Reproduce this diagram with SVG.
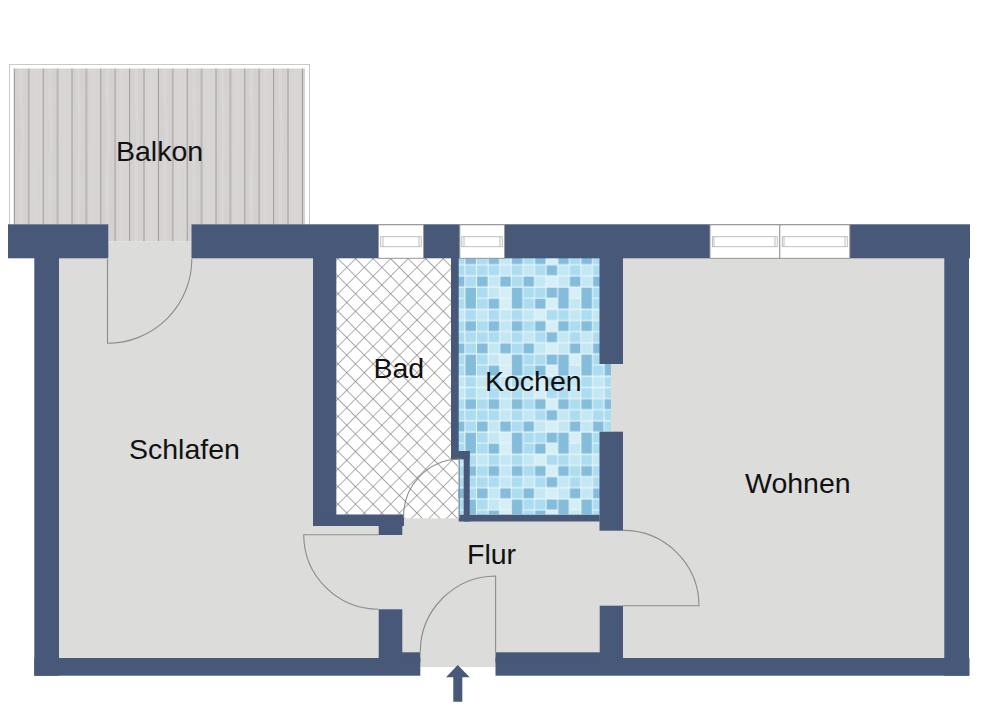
<svg xmlns="http://www.w3.org/2000/svg" width="1000" height="707" viewBox="0 0 1000 707">
<style>
.w{fill:#475879}
.f{fill:#dcdcdb}
.l{font:28.5px "Liberation Sans",Arial,sans-serif;fill:#111}
.d{fill:none;stroke:#8c8c8c;stroke-width:1.1}
.win{fill:#fff;stroke:#9a9a9a;stroke-width:1}
.pane{fill:#fff;stroke:#b8b8b8;stroke-width:.9}
.a{fill:#84bddb}.b{fill:#abdcf0}.c{fill:#c4e7f4}.e{fill:#d6eff7}
</style>
<defs>
<pattern id="wood" patternUnits="userSpaceOnUse" x="13.9" y="0" width="28.8" height="160">
<rect width="28.8" height="160" fill="#d5d1d1"/>
<rect x="14.4" width="14.4" height="160" fill="#d8d4d4"/>
<path d="M7 0C8 40 6 80 8 120S7 150 7 160M21 0C20 50 23 90 21 160" stroke="#d9d6d6" stroke-width="3" fill="none"/>
<rect x="0" width="1" height="160" fill="#a09b9b"/>
<rect x="14.4" width="1" height="160" fill="#a09b9b"/>
</pattern>
<pattern id="hatch" patternUnits="userSpaceOnUse" width="12.4" height="12.4" patternTransform="translate(338 258) rotate(45)">
<rect width="12.4" height="12.4" fill="#fff"/>
<path d="M0 0H12.4M0 0V12.4" stroke="#858585" stroke-width="1.3" fill="none"/>
</pattern>
<pattern id="tile" patternUnits="userSpaceOnUse" x="465" y="253.7" width="139.2" height="66.9">
<rect width="139.2" height="66.9" fill="#ebf7fb"/>
<g id="r0">
<rect class="a" x="0.4" y="0.5" width="10.6" height="10"/><rect class="b" x="12" y="0.5" width="10.6" height="10"/><rect class="a" x="23.6" y="0.5" width="10.6" height="10"/><rect class="c" x="35.2" y="0.5" width="10.6" height="10"/><rect class="a" x="46.8" y="0.5" width="10.6" height="10"/><rect class="b" x="58.4" y="0.5" width="10.6" height="10"/><rect class="a" x="70" y="0.5" width="10.6" height="10"/><rect class="e" x="81.6" y="0.5" width="10.6" height="10"/><rect class="a" x="93.2" y="0.5" width="10.6" height="10"/><rect class="b" x="104.8" y="0.5" width="10.6" height="10"/><rect class="a" x="116.4" y="0.5" width="10.6" height="10"/><rect class="b" x="128" y="0.5" width="10.6" height="10"/>
</g>
<g id="r1">
<rect class="b" x="0.4" y="11.6" width="10.6" height="10"/><rect class="b" x="12" y="11.6" width="10.6" height="10"/><rect class="b" x="23.6" y="11.6" width="10.6" height="10"/><rect class="c" x="35.2" y="11.6" width="10.6" height="10"/><rect class="b" x="46.8" y="11.6" width="10.6" height="10"/><rect class="c" x="58.4" y="11.6" width="10.6" height="10"/><rect class="b" x="70" y="11.6" width="10.6" height="10"/><rect class="a" x="81.6" y="11.6" width="10.6" height="10"/><rect class="c" x="93.2" y="11.6" width="10.6" height="10"/><rect class="b" x="104.8" y="11.6" width="10.6" height="10"/><rect class="c" x="116.4" y="11.6" width="10.6" height="10"/><rect class="b" x="128" y="11.6" width="10.6" height="10"/>
</g>
<g id="r2">
<rect class="b" x="0.4" y="22.8" width="10.6" height="10"/><rect class="a" x="12" y="22.8" width="10.6" height="10"/><rect class="c" x="23.6" y="22.8" width="10.6" height="10"/><rect class="a" x="35.2" y="22.8" width="10.6" height="10"/><rect class="b" x="46.8" y="22.8" width="10.6" height="10"/><rect class="a" x="58.4" y="22.8" width="10.6" height="10"/><rect class="c" x="70" y="22.8" width="10.6" height="10"/><rect class="e" x="81.6" y="22.8" width="10.6" height="10"/><rect class="c" x="93.2" y="22.8" width="10.6" height="10"/><rect class="a" x="104.8" y="22.8" width="10.6" height="10"/><rect class="c" x="116.4" y="22.8" width="10.6" height="10"/><rect class="a" x="128" y="22.8" width="10.6" height="10"/>
</g>
<g id="r3">
<rect class="a" x="0.4" y="34" width="10.6" height="21"/><rect class="b" x="12" y="34" width="10.6" height="10"/><rect class="c" x="23.6" y="34" width="10.6" height="10"/><rect class="e" x="35.2" y="34" width="10.6" height="10"/><rect class="a" x="46.8" y="34" width="10.6" height="21"/><rect class="b" x="58.4" y="34" width="10.6" height="10"/><rect class="b" x="70" y="34" width="10.6" height="10"/><rect class="a" x="81.6" y="34" width="10.6" height="10"/><rect class="a" x="93.2" y="34" width="10.6" height="21"/><rect class="e" x="104.8" y="34" width="10.6" height="10"/><rect class="a" x="116.4" y="34" width="10.6" height="21"/><rect class="b" x="128" y="34" width="10.6" height="10"/>
</g>
<g id="r4">
<rect class="b" x="12" y="45" width="10.6" height="10"/><rect class="a" x="23.6" y="45" width="10.6" height="10"/><rect class="e" x="35.2" y="45" width="10.6" height="10"/><rect class="b" x="58.4" y="45" width="10.6" height="10"/><rect class="a" x="70" y="45" width="10.6" height="10"/><rect class="e" x="81.6" y="45" width="10.6" height="10"/><rect class="c" x="104.8" y="45" width="10.6" height="10"/><rect class="b" x="128" y="45" width="10.6" height="10"/>
</g>
<g id="r5">
<rect class="b" x="0.4" y="56.3" width="10.6" height="10"/><rect class="c" x="12" y="56.3" width="10.6" height="10"/><rect class="b" x="23.6" y="56.3" width="10.6" height="10"/><rect class="c" x="35.2" y="56.3" width="10.6" height="10"/><rect class="b" x="46.8" y="56.3" width="10.6" height="10"/><rect class="c" x="58.4" y="56.3" width="10.6" height="10"/><rect class="e" x="70" y="56.3" width="10.6" height="10"/><rect class="b" x="81.6" y="56.3" width="10.6" height="10"/><rect class="b" x="93.2" y="56.3" width="10.6" height="10"/><rect class="c" x="104.8" y="56.3" width="10.6" height="10"/><rect class="b" x="116.4" y="56.3" width="10.6" height="10"/><rect class="c" x="128" y="56.3" width="10.6" height="10"/>
</g>
</pattern>
</defs>
<rect width="1000" height="707" fill="#fff"/>

<g id="balkon">
<rect x="9.5" y="64.5" width="300" height="165" fill="#fff" stroke="#c9c9c9" stroke-width="1"/>
<rect x="13.5" y="68.5" width="291.5" height="156" fill="url(#wood)"/>
<rect x="108" y="224" width="84" height="17.5" fill="url(#wood)"/>
</g>

<g id="floors">
<rect class="f" x="59" y="258" width="345" height="400"/>
<rect class="f" x="108" y="241.5" width="84" height="17"/>
<rect class="f" x="623" y="258" width="322" height="400"/>
<rect class="f" x="402" y="518" width="198" height="140"/>
<rect class="f" x="598" y="521" width="27" height="137"/>
<rect class="f" x="420" y="640" width="76" height="27"/>
</g>

<g id="bad">
<rect x="336.3" y="258" width="127.5" height="260.3" fill="url(#hatch)"/>
</g>

<g id="kochen">
<rect x="458" y="258" width="153" height="129.5" fill="url(#tile)"/>
<rect x="458" y="376.35" width="153" height="127" fill="url(#tile)" transform="translate(0 11.15)"/>
<rect class="f" x="611" y="364" width="13" height="68"/>
</g>

<g id="waende">
<rect class="w" x="8" y="224.3" width="100.3" height="34"/>
<rect class="w" x="191.5" y="224.3" width="778.5" height="34"/>
<rect class="w" x="34.3" y="258" width="24.7" height="417.7"/>
<rect class="w" x="944.3" y="258" width="24.7" height="417.7"/>
<rect class="w" x="313" y="258" width="23.3" height="268"/>
<rect class="w" x="313" y="514.5" width="91" height="11.5"/>
<rect class="w" x="378.7" y="525" width="23.6" height="10"/>
<rect class="w" x="451" y="258" width="7.7" height="201.3"/>
<rect class="w" x="451" y="451" width="18.6" height="8.3"/>
<rect class="w" x="463.7" y="451" width="6" height="70.5"/>
<rect class="w" x="458.7" y="514.7" width="141" height="6.8"/>
<rect class="w" x="599.5" y="258" width="23.5" height="106"/>
<rect class="w" x="599.5" y="431.7" width="23.5" height="99"/>
<rect class="w" x="599.7" y="605.7" width="23.3" height="53"/>
<rect class="w" x="378.7" y="609.3" width="23.6" height="49"/>
<rect class="w" x="34.3" y="658" width="386" height="17.7"/>
<rect class="w" x="402" y="652.3" width="18.3" height="10"/>
<rect class="w" x="495.5" y="658" width="474" height="17.7"/>
<rect class="w" x="495.5" y="652.3" width="104.5" height="10"/>
</g>

<g id="fenster">
<rect class="win" x="378.5" y="224.8" width="45" height="33.5"/>
<rect class="pane" x="380.7" y="236.7" width="40.5" height="10"/>
<path class="pane" d="M383 236.7V246.7M419 236.7V246.7"/>
<rect class="win" x="459.8" y="224.8" width="44.7" height="33.5"/>
<rect class="pane" x="461.8" y="236.7" width="40.5" height="10"/>
<path class="pane" d="M464 236.7V246.7M500 236.7V246.7"/>
<rect class="win" x="710" y="224.8" width="69.8" height="33.5"/>
<rect class="pane" x="712.5" y="236.7" width="64.8" height="10"/>
<path class="pane" d="M714 236.7V246.7M775 236.7V246.7"/>
<rect class="win" x="779.8" y="224.8" width="70" height="33.5"/>
<rect class="pane" x="782.3" y="236.7" width="65" height="10"/>
<path class="pane" d="M784 236.7V246.7M845 236.7V246.7"/>
</g>

<g id="tueren">
<path class="d" d="M191.8 259A84.3 84.3 0 0 1 107.5 343.3V259"/>
<path class="d" d="M378.7 609.3A75 75 0 0 1 303.7 534.7H378.7"/>
<path class="d" d="M420.3 652A76 76 0 0 1 495.6 576V652"/>
<path class="d" d="M623 530.4A75.7 75.7 0 0 1 699 605.7H623"/>
<path class="d" d="M403.7 518A57 57 0 0 1 459.3 459V518"/>
</g>

<path id="eingang" class="w" d="M457.7 665L469.7 677.3H462.3V701.7H453.3V677.3H446Z"/>

<g id="labels">
<text class="l" x="116" y="161">Balkon</text>
<text class="l" x="373.5" y="377.7">Bad</text>
<text class="l" x="485" y="391">Kochen</text>
<text class="l" x="129" y="459">Schlafen</text>
<text class="l" x="745" y="493">Wohnen</text>
<text class="l" x="467" y="564.3">Flur</text>
</g>
</svg>
